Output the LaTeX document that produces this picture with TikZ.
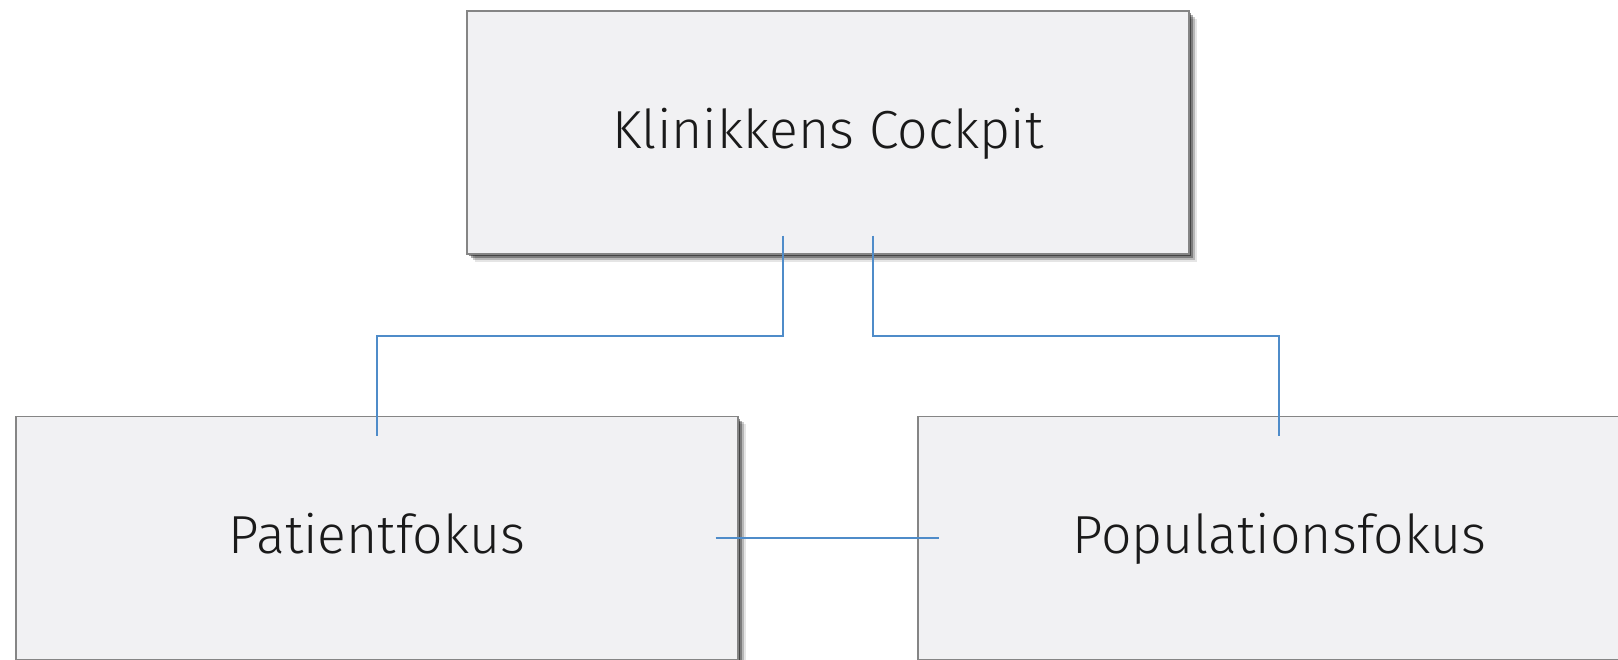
\documentclass[tikz,border=0pt]{standalone}
\usepackage{fontspec}
\setmainfont{Fira Sans}[UprightFont={* Light}]
\usetikzlibrary{shadows,calc}
\definecolor{boxfill}{HTML}{F1F1F3}
\definecolor{boxline}{HTML}{858585}
\definecolor{conn}{HTML}{4F8CC9}
\definecolor{txt}{HTML}{1A1A1A}
\begin{document}
\begin{tikzpicture}[x=0.02cm,y=-0.02cm,
  box/.style={draw=boxline, line width=0.8pt, fill=boxfill,
    minimum width=722*0.02cm, minimum height=243*0.02cm, inner sep=0pt,
    text height=23pt, text depth=5.2pt,
    general shadow={shadow xshift=4.4pt, shadow yshift=-4.4pt, fill=black, opacity=0.1},
    general shadow={shadow xshift=3.4pt, shadow yshift=-3.4pt, fill=black, opacity=0.2},
    general shadow={shadow xshift=2.4pt, shadow yshift=-2.4pt, fill=black, opacity=0.32},
    general shadow={shadow xshift=1.4pt, shadow yshift=-1.4pt, fill=black, opacity=0.45},
    font=\fontsize{30.5}{36}\selectfont, text=txt},
  conline/.style={draw=conn, line width=1.1pt}]
\useasboundingbox (0,0) rectangle (1618,659);
\fill[white] (0,0) rectangle (1618,659);
\node[box] (top) at (828,132.5) {Klinikkens Cockpit};
\node[box] (pat) at (377,538) {Patientfokus};
\node[box] (pop) at (1279,538) {Populationsfokus};
\coordinate (a1) at ($(top.south)+(-45,-19)$);
\coordinate (a2) at ($(top.south)+(45,-19)$);
\coordinate (b1) at ($(pat.north)+(0,20)$);
\coordinate (b2) at ($(pop.north)+(0,20)$);
\coordinate (c1) at ($(pat.east)+(-23,0)$);
\coordinate (c2) at ($(pop.west)+(22,0)$);
\draw[conline] (a1) |- ($(a1)!0.5!(b1)$) -| (b1);
\draw[conline] (a2) |- ($(a2)!0.5!(b2)$) -| (b2);
\draw[conline] (c1) -- (c2);
\end{tikzpicture}
\end{document}
